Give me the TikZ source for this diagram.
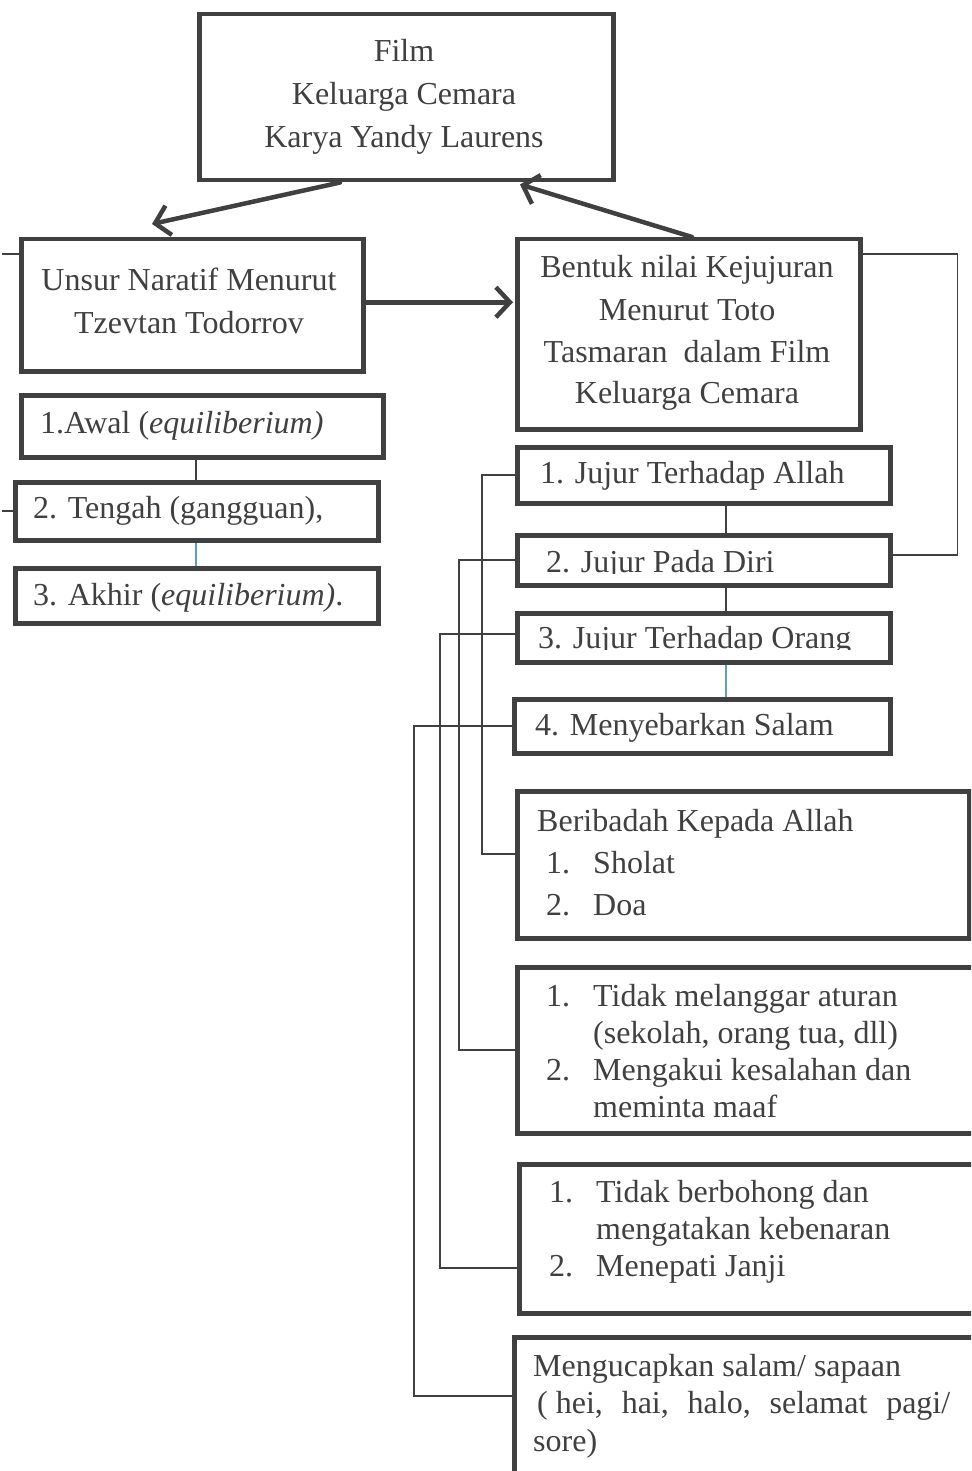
\documentclass[tikz,border=0pt]{standalone}
\usepackage{fontspec}
\setmainfont{Liberation Serif}
\usetikzlibrary{arrows.meta}
\definecolor{ink}{RGB}{64,64,64}
\definecolor{bord}{RGB}{64,64,64}
\definecolor{blu}{RGB}{91,155,213}
\newcommand\myfs{\fontsize{32}{40}\selectfont}
\begin{document}
\begin{tikzpicture}[x=1pt,y=-1pt,
  box/.style={draw=bord, line width=4.5pt, anchor=north west, inner sep=0pt},
  tl/.style={text=ink, font=\myfs, inner sep=0pt, anchor=base west},
  tc/.style={text=ink, font=\myfs, inner sep=0pt, anchor=base},
  conn/.style={draw=ink, line width=1.6pt},
  bconn/.style={draw=blu, line width=1.6pt},
  arr/.style={draw=bord, line width=4.5pt, line cap=round, -{Straight Barb[length=14pt,width=30pt]}}]
\fill[white] (0,0) rectangle (971,1471);
\useasboundingbox (0,0) rectangle (971,1471);
\clip (0,0) rectangle (971,1471);

% boxes
\node[box, minimum width=414pt, minimum height=166pt] (film) at (197,12) {};
\node[box, minimum width=342pt, minimum height=132pt] (unsur) at (19,237) {};
\node[box, minimum width=362pt, minimum height=62pt] (awal) at (19,393) {};
\node[box, minimum width=363pt, minimum height=58pt] (tengah) at (13,480) {};
\node[box, minimum width=363pt, minimum height=55pt] (akhir) at (13,566) {};
\node[box, minimum width=343pt, minimum height=190pt] (bentuk) at (515,237) {};
\node[box, minimum width=373pt, minimum height=56pt] (allah) at (515,445) {};
\node[box, minimum width=373pt, minimum height=50pt] (diri) at (515,533) {};
\node[box, minimum width=373pt, minimum height=49pt] (orang) at (515,611) {};
\node[box, minimum width=376pt, minimum height=54pt] (salam) at (512,697) {};
\node[box, minimum width=452pt, minimum height=147pt] (ibadah) at (515,789) {};
\node[box, minimum width=480pt, minimum height=166pt] (melanggar) at (515,965) {};
\node[box, minimum width=480pt, minimum height=149pt] (bohong) at (517,1162) {};
\node[box, minimum width=480pt, minimum height=136pt] (ucap) at (512,1335) {};

% arrows
\draw[arr] ([xshift=143pt]film.south west) -- ([xshift=133pt,yshift=13pt]unsur.north west);
\coordinate (ua) at ([yshift=3pt]unsur.east);
\draw[arr, shorten >=2pt] (ua) -- (ua -| bentuk.west);
\draw[arr] ([xshift=177pt]bentuk.north west) -- ([xshift=323pt,yshift=-2pt]film.south west);

% stacked connectors
\coordinate (c1) at ([xshift=177pt]awal.south west);
\draw[conn] (c1) -- (c1 |- tengah.north);
\coordinate (c2) at ([xshift=183pt]tengah.south west);
\draw[bconn] (c2) -- (c2 |- akhir.north);
\coordinate (c3) at ([xshift=211pt]allah.south west);
\draw[conn] (c3) -- (c3 |- diri.north);
\coordinate (c4) at ([xshift=211pt]diri.south west);
\draw[conn] (c4) -- (c4 |- orang.north);
\coordinate (c5) at ([xshift=211pt]orang.south west);
\draw[bconn] (c5) -- (c5 |- salam.north);

% elbow connectors
\draw[conn] (allah.west) -- ++(-33,0) |- ([yshift=10.5pt]ibadah.west);
\draw[conn] (diri.west) -- ++(-56,0) |- (melanggar.west);
\draw[conn] ([yshift=3.5pt]orang.west) -- ++(-75,0) |- ([yshift=-29.5pt]bohong.west);
\draw[conn] (salam.west) -- ++(-97.75,0) |- ([yshift=9pt]ucap.west);
\draw[conn] ([yshift=-17pt]bentuk.north east) -- ++(95,0) |- ([yshift=5pt]diri.east);
\draw[conn] ([yshift=-17pt]unsur.north west) -- ++(-17,0);
\draw[conn] (tengah.west) -- ++(-11,0);

% texts
\node[tc] (ft1) at (404,62) {Film};
\node[tc] (ft2) at (404,105) {Keluarga Cemara};
\node[tc] (ft3) at (404,148) {Karya Yandy Laurens};
\node[tc] (ut1) at (189,290) {Unsur Naratif Menurut};
\node[tc] (ut2) at (189,333) {Tzevtan Todorrov};
\node[tl] (at1) at (40,433) {1.Awal (\textit{equiliberium)}};
\node[tl] (tt1) at (33,518) {2. Tengah (gangguan),};
\node[tl] (kt1) at (33,605) {3. Akhir (\textit{equiliberium)}.};
\node[tc] (bt1) at (687,277) {Bentuk nilai Kejujuran};
\node[tc] (bt2) at (687,320) {Menurut Toto};
\node[tc] (bt3) at (687,362) {Tasmaran\ \ dalam Film};
\node[tc] (bt4) at (687,403) {Keluarga Cemara};
\node[tl] (jt1) at (540,483) {1. Jujur Terhadap Allah};
\begin{scope}
\clip (515,535) rectangle (888,573.5);
\node[tl] (jt2) at (546,572) {2. Jujur Pada Diri};
\end{scope}
\begin{scope}
\clip (515,613) rectangle (888,649.5);
\node[tl] (jt3) at (538,648) {3. Jujur Terhadap Orang};
\end{scope}
\node[tl] (jt4) at (535,735) {4. Menyebarkan Salam};
\node[tl] (it0) at (537,831) {Beribadah Kepada Allah};
\node[tl] (in1) at (546,873) {1.};
\node[tl] (it1) at (593,873) {Sholat};
\node[tl] (in2) at (546,915) {2.};
\node[tl] (it2) at (593,915) {Doa};
\node[tl] (mn1) at (546,1006) {1.};
\node[tl] (mt1) at (593,1006) {Tidak melanggar aturan};
\node[tl] (mt2) at (593,1043) {(sekolah, orang tua, dll)};
\node[tl] (mn2) at (546,1080) {2.};
\node[tl] (mt3) at (593,1080) {Mengakui kesalahan dan};
\node[tl] (mt4) at (593,1117) {meminta maaf};
\node[tl] (on1) at (549,1202) {1.};
\node[tl] (ot1) at (596,1202) {Tidak berbohong dan};
\node[tl] (ot2) at (596,1239) {mengatakan kebenaran};
\node[tl] (on2) at (549,1276) {2.};
\node[tl] (ot3) at (596,1276) {Menepati Janji};
\node[tl] (st1) at (533,1376) {Mengucapkan salam/ sapaan};
\node[tl] (st2) at (537,1413) {\hbox to 413pt{(\ hei,\hfill hai,\hfill halo,\hfill selamat\hfill pagi/}};
\node[tl] (st3) at (533,1451) {sore)};
\end{tikzpicture}
\end{document}
